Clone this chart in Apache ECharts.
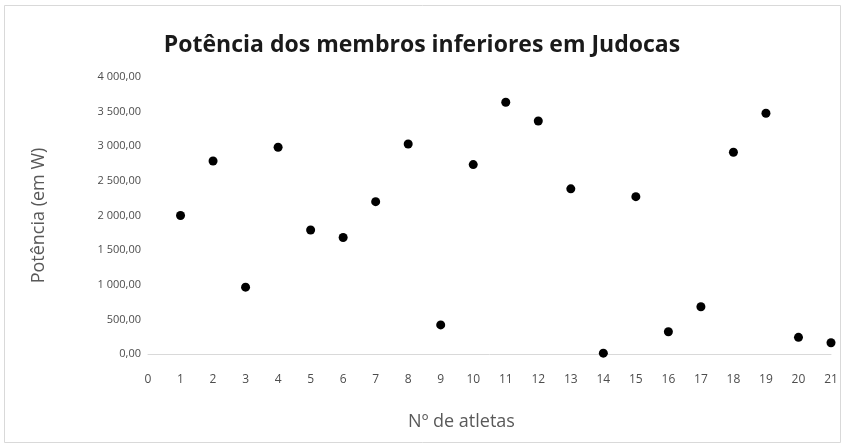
<!DOCTYPE html>
<html>
<head>
<meta charset="utf-8">
<script src="https://cdn.jsdelivr.net/npm/echarts@6/dist/echarts.min.js"></script>
<style>
  html, body { margin: 0; padding: 0; background: #fff; }
  #chart { width: 844px; height: 447px; }
</style>
</head>
<body>
<div id="chart"></div>
<script>
// Athlete numbers and lower-limb power (W)
const athletes = [1, 2, 3, 4, 5, 6, 7, 8, 9, 10, 11, 12, 13, 14, 15, 16, 17, 18, 19, 20, 21];
const power = [2000, 2787, 965, 2985, 1790, 1682, 2200, 3032, 420, 2735,
               3635, 3365, 2385, 12, 2272, 322, 683, 2913, 3476, 241, 163];

const titleText = 'Potência dos membros inferiores em Judocas';
const xTitle = 'Nº de atletas';
const yTitle = 'Potência (em W)';

// "4 000,00" style number format
function fmt(v) {
  const parts = v.toFixed(2).split('.');
  const intPart = parts[0].replace(/\B(?=(\d{3})+(?!\d))/g, ' ');
  return intPart + ',' + parts[1];
}

const points = athletes.map((a, i) => [a, power[i]]);

const chart = echarts.init(document.getElementById('chart'), null, { renderer: 'canvas' });
chart.setOption({
  backgroundColor: '#ffffff',
  animation: false,
  title: {
    text: titleText,
    left: 'center',
    top: 29,
    textStyle: { fontFamily: 'Open Sans', fontWeight: 'bold', fontSize: 23, color: '#1a1a1a' }
  },
  grid: { left: 148, right: 13, top: 77, bottom: 93 },
  xAxis: {
    type: 'value',
    min: 0, max: 21, interval: 1,
    name: xTitle,
    nameLocation: 'middle',
    nameGap: 59,
    nameTextStyle: { fontFamily: 'Open Sans', fontSize: 18, color: '#595959', padding: [0, 56, 0, 0] },
    axisLine: { show: true, onZero: true, lineStyle: { color: '#d9d9d9', width: 1 } },
    axisTick: { show: false },
    splitLine: { show: false },
    axisLabel: { margin: 20, fontFamily: 'Open Sans', fontSize: 12, color: '#4d4d4d' }
  },
  yAxis: {
    type: 'value',
    min: 0, max: 4000, interval: 500,
    name: yTitle,
    nameLocation: 'middle',
    nameGap: 100,
    nameRotate: 90,
    nameTextStyle: { fontFamily: 'Open Sans', fontSize: 18, color: '#595959' },
    axisLine: { show: false },
    axisTick: { show: false },
    splitLine: { show: false },
    axisLabel: { margin: 7, fontFamily: 'Open Sans', fontSize: 11, color: '#4d4d4d', formatter: fmt }
  },
  graphic: [{
    type: 'rect',
    shape: { x: 4.5, y: 5.5, width: 836, height: 437 },
    style: { fill: 'none', stroke: '#d9d9d9', lineWidth: 1 },
    silent: true
  }],
  series: [{
    type: 'scatter',
    data: points,
    symbol: 'circle',
    symbolSize: 9,
    itemStyle: { color: '#000000', opacity: 1 }
  }]
});
</script>
</body>
</html>
